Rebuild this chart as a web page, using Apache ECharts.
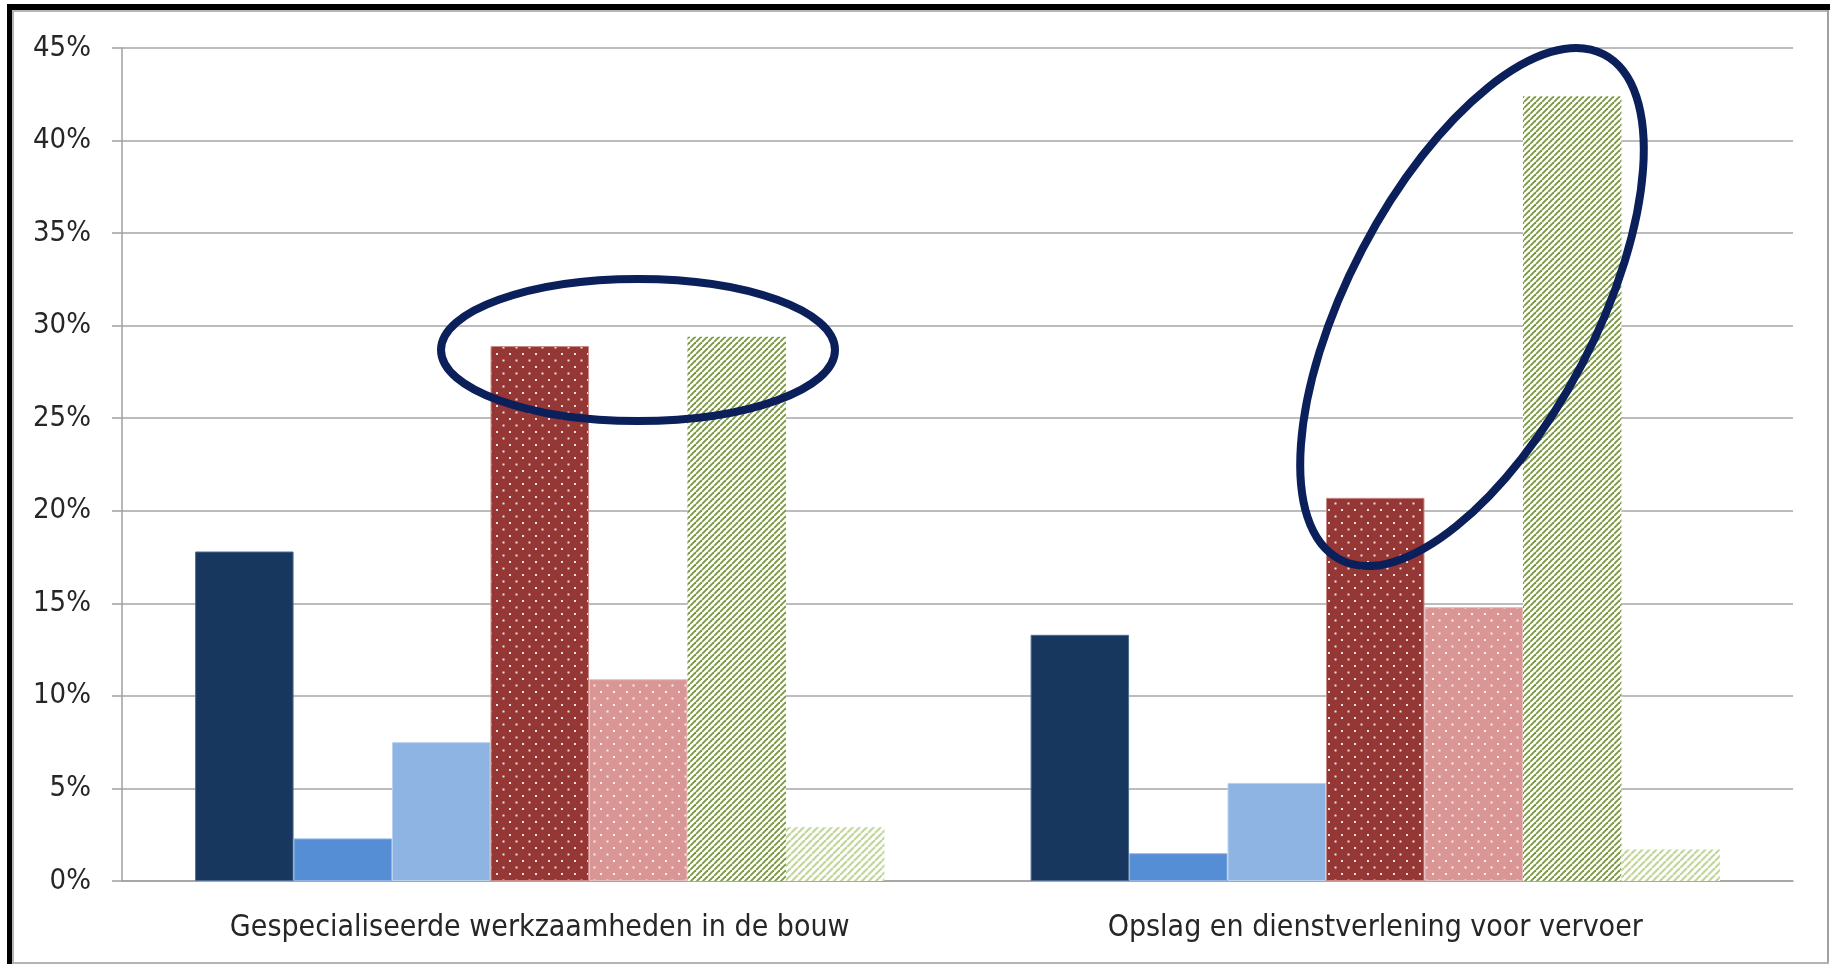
<!DOCTYPE html>
<html>
<head>
<meta charset="utf-8">
<title>Bar chart</title>
<script src="https://cdn.jsdelivr.net/npm/echarts@6/dist/echarts.min.js"></script>
<style>
  html, body { margin: 0; padding: 0; background: #fff; }
  #main { width: 1830px; height: 964px; }
</style>
</head>
<body>
<div id="main"></div>
<script>
var categories = ['Gespecialiseerde werkzaamheden in de bouw', 'Opslag en dienstverlening voor vervoer'];

// waarden in procenten, per reeks
var reeks1 = [17.8, 13.3];
var reeks2 = [2.3, 1.5];
var reeks3 = [7.5, 5.3];
var reeks4 = [28.9, 20.7];
var reeks5 = [10.9, 14.8];
var reeks6 = [29.4, 42.4];
var reeks7 = [2.9, 1.7];

var yMin = 0;
var yMax = 45;
var yStep = 5;

var font = "'Liberation Sans Narrow', 'DejaVu Sans Condensed', 'Liberation Sans', sans-serif";

function dotPattern(bg) {
  var c = document.createElement('canvas');
  c.width = 13;
  c.height = 13;
  var ctx = c.getContext('2d');
  ctx.fillStyle = bg;
  ctx.fillRect(0, 0, 13, 13);
  ctx.fillStyle = 'rgba(255,255,255,0.85)';
  ctx.fillRect(2, 2, 2, 2);
  ctx.fillRect(8.5, 8.5, 2, 2);
  return { image: c, repeat: 'repeat' };
}

function hatchPattern(color, p, w) {
  var c = document.createElement('canvas');
  c.width = p;
  c.height = p;
  var ctx = c.getContext('2d');
  ctx.fillStyle = '#fff';
  ctx.fillRect(0, 0, p, p);
  ctx.strokeStyle = color;
  ctx.lineWidth = w;
  for (var k = -1; k <= 1; k++) {
    ctx.beginPath();
    ctx.moveTo(k * p, p);
    ctx.lineTo(k * p + p, 0);
    ctx.stroke();
  }
  return { image: c, repeat: 'repeat' };
}

function bar(name, data, color, border) {
  return {
    name: name,
    type: 'bar',
    data: data,
    barGap: 0,
    barCategoryGap: '17.5%',
    itemStyle: {
      color: color,
      borderColor: border || 'transparent',
      borderWidth: border ? 1 : 0
    }
  };
}

var chart = echarts.init(document.getElementById('main'));

var option = {
  backgroundColor: '#fff',
  animation: false,
  grid: { left: 122, right: 37, top: 48, bottom: 83 },
  xAxis: {
    type: 'category',
    data: categories,
    axisLine: { lineStyle: { color: '#a0a0a0', width: 1.5 } },
    axisTick: { length: 12, lineStyle: { color: '#a0a0a0', width: 1.5 } },
    axisLabel: { margin: 32, fontSize: 30, color: '#262626', fontFamily: font }
  },
  yAxis: {
    type: 'value',
    min: yMin,
    max: yMax,
    interval: yStep,
    axisLine: { show: true, lineStyle: { color: '#a0a0a0', width: 1.5 } },
    axisTick: { show: true, length: 10, lineStyle: { color: '#a0a0a0', width: 1.5 } },
    splitLine: { lineStyle: { color: '#a6a6a6', width: 1.5 } },
    axisLabel: { margin: 31, fontSize: 29, color: '#262626', fontFamily: font, formatter: '{value}%' }
  },
  series: [
    bar('Reeks 1', reeks1, '#17375e', '#4f6d92'),
    bar('Reeks 2', reeks2, '#558ed5', '#8fb3e3'),
    bar('Reeks 3', reeks3, '#8eb4e3', '#b9d0ef'),
    bar('Reeks 4', reeks4, dotPattern('#953735'), '#c98a88'),
    bar('Reeks 5', reeks5, dotPattern('#d99694'), '#e8bcbb'),
    bar('Reeks 6', reeks6, hatchPattern('#7b9842', 6, 1.9)),
    bar('Reeks 7', reeks7, hatchPattern('#c3d69b', 7, 2.2))
  ],
  graphic: [
    // kader
    { type: 'rect', shape: { x: 7, y: 4, width: 1823, height: 6 }, style: { fill: '#000' }, z: 50 },
    { type: 'rect', shape: { x: 7, y: 4, width: 5, height: 960 }, style: { fill: '#000' }, z: 50 },
    { type: 'rect', shape: { x: 12, y: 10, width: 1815, height: 2 }, style: { fill: '#b4b4b4' }, z: 50 },
    { type: 'rect', shape: { x: 12, y: 10, width: 2, height: 954 }, style: { fill: '#b4b4b4' }, z: 50 },
    { type: 'rect', shape: { x: 1827, y: 10, width: 2, height: 954 }, style: { fill: '#a0a0a0' }, z: 50 },
    { type: 'rect', shape: { x: 12, y: 962, width: 1817, height: 2 }, style: { fill: '#b4b4b4' }, z: 50 },
    // markeringen
    {
      type: 'ellipse',
      x: 638, y: 350,
      shape: { cx: 0, cy: 0, rx: 197, ry: 71 },
      style: { fill: 'none', stroke: '#0b1f5b', lineWidth: 8 },
      z: 100
    },
    {
      type: 'ellipse',
      x: 1472, y: 307,
      rotation: 62.4 * Math.PI / 180,
      shape: { cx: 0, cy: 0, rx: 285, ry: 124 },
      style: { fill: 'none', stroke: '#0b1f5b', lineWidth: 8 },
      z: 100
    }
  ]
};

chart.setOption(option);
</script>
</body>
</html>
